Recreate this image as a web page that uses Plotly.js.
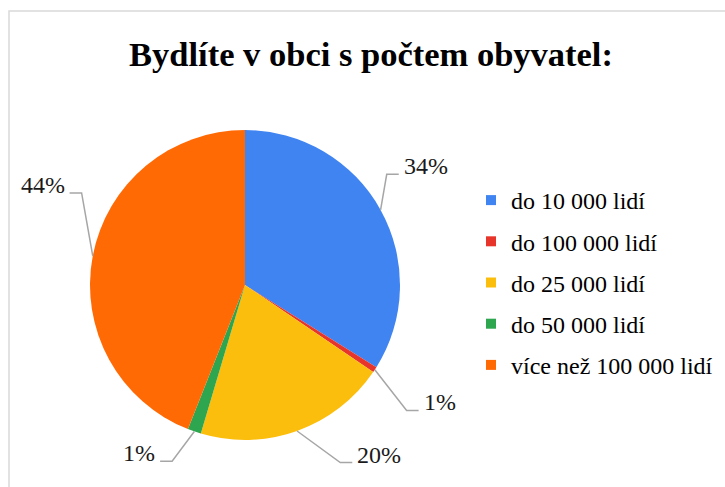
<!DOCTYPE html>
<html>
<head>
<meta charset="utf-8">
<script src="https://cdn.plot.ly/plotly-3.0.1.min.js"></script>
<style>html,body{margin:0;padding:0;background:#fff;}#chart{width:725px;height:487px;}</style>
</head>
<body>
<div id="chart"></div>
<script>
// ---- data ----
const categories = ['do 10 000 lidí', 'do 100 000 lidí', 'do 25 000 lidí', 'do 50 000 lidí', 'více než 100 000 lidí'];
const shares = [33.9, 0.6, 20.1, 1.4, 44.0];
const sliceColors = ['#3f84f0', '#e8352b', '#fcbe0c', '#2ea54f', '#ff6a05'];
const chartTitle = 'Bydlíte v obci s počtem obyvatel:';

// ---- label layout (leader-line elbows relative to slice middle) ----
const labelAngleShift = [-9, 4.7, -8.6, 3.4, 18.6];
const labelRadius = [1.16, 1.32, 1.30, 1.23, 1.21];

const SERIF = "'Liberation Serif', 'Times New Roman', Times, serif";
const W = 725, H = 487;
const cx = 245, cy = 285, R = 155;
const px = x => x / W;
const py = y => 1 - y / H;

const total = shares.reduce((a, b) => a + b, 0);
const shapes = [];
const annotations = [];
let cum = 0;
shares.forEach((v, i) => {
  const mid = (cum + v / 2) / total * 360;
  cum += v;
  const a = mid * Math.PI / 180;
  const ax = cx + R * Math.sin(a), ay = cy - R * Math.cos(a);
  const e = (mid + labelAngleShift[i]) * Math.PI / 180;
  const er = R * labelRadius[i];
  const ex = cx + er * Math.sin(e), ey = cy - er * Math.cos(e);
  const right = Math.sin(e) >= 0;
  const tx = ex + (right ? 12 : -12);
  shapes.push({
    type: 'path', xref: 'paper', yref: 'paper',
    path: `M ${px(ax)} ${py(ay)} L ${px(ex)} ${py(ey)} L ${px(tx)} ${py(ey)}`,
    line: {color: '#a6a6a6', width: 1.5}
  });
  annotations.push({
    xref: 'paper', yref: 'paper',
    x: px(tx + (right ? 3 : -3)), y: py(ey - 8),
    xanchor: right ? 'left' : 'right', yanchor: 'middle',
    text: Math.round(v / total * 100) + '%',
    showarrow: false,
    font: {family: SERIF, size: 24, color: '#1a1a1a'}
  });
});

// chart border
shapes.push({
  type: 'rect', xref: 'paper', yref: 'paper',
  x0: px(9), y0: py(11), x1: px(760), y1: py(520),
  line: {color: '#d9d9d9', width: 1.5}, fillcolor: 'rgba(0,0,0,0)'
});

const pie = {
  type: 'pie',
  labels: categories,
  values: shares,
  sort: false,
  direction: 'clockwise',
  rotation: 0,
  textinfo: 'none',
  hoverinfo: 'label+percent',
  marker: {colors: sliceColors, line: {color: '#ffffff', width: 0}},
  showlegend: false,
  domain: {x: [px(cx - R), px(cx + R)], y: [py(cy + R), py(cy - R)]}
};

const legendTraces = categories.map((c, i) => ({
  type: 'scatter', mode: 'markers',
  x: [null], y: [null],
  name: c,
  legendgroup: 'g' + i,
  marker: {symbol: 'square', size: 10, color: sliceColors[i]},
  hoverinfo: 'skip'
}));

const layout = {
  width: W, height: H,
  margin: {l: 0, r: 0, t: 0, b: 0},
  font: {family: SERIF, size: 24, color: '#000000'},
  paper_bgcolor: '#ffffff',
  plot_bgcolor: '#ffffff',
  xaxis: {visible: false},
  yaxis: {visible: false},
  title: {
    text: '<b>' + chartTitle + '</b>',
    font: {family: SERIF, size: 34.5, color: '#000000'},
    x: px(371), xanchor: 'center', xref: 'paper',
    y: py(54), yanchor: 'middle', yref: 'container'
  },
  showlegend: true,
  legend: {
    x: px(471), xanchor: 'left',
    y: py(178), yanchor: 'top',
    font: {family: SERIF, size: 24, color: '#000000'},
    tracegroupgap: 7,
    bgcolor: 'rgba(0,0,0,0)'
  },
  shapes: shapes,
  annotations: annotations
};

Plotly.newPlot('chart', [pie].concat(legendTraces), layout, {displayModeBar: false, staticPlot: true});
</script>
</body>
</html>
